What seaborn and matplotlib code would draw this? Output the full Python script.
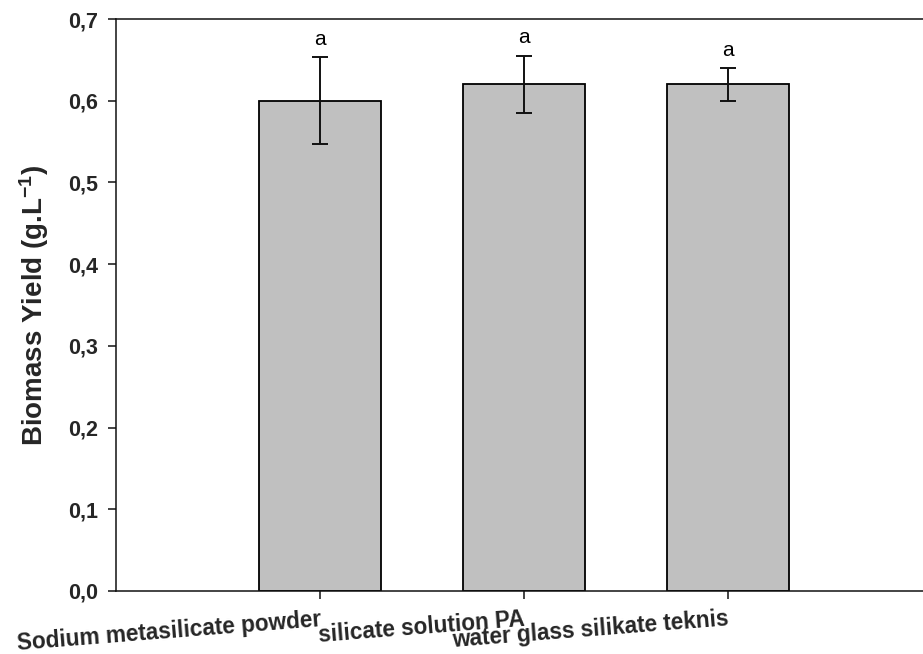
import matplotlib
matplotlib.use("Agg")
import matplotlib.pyplot as plt
import seaborn as sns
import pandas as pd

# Biomass yield per silicate source (mean and error), with significance letters
sources = ["Sodium metasilicate powder", "silicate solution PA", "water glass silikate teknis"]
yield_mean = [0.60, 0.62, 0.62]
yield_err = [0.053, 0.035, 0.020]
letters = ["a", "a", "a"]
y_ticks = [0.0, 0.1, 0.2, 0.3, 0.4, 0.5, 0.6, 0.7]
y_ticklabels = ["0,0", "0,1", "0,2", "0,3", "0,4", "0,5", "0,6", "0,7"]

sns.set_style("ticks")
plt.rcParams["font.family"] = ["Liberation Sans", "DejaVu Sans"]
plt.rcParams["mathtext.fontset"] = "custom"
plt.rcParams["mathtext.rm"] = "Liberation Sans:bold"
plt.rcParams["mathtext.it"] = "Liberation Sans:bold"
plt.rcParams["mathtext.bf"] = "Liberation Sans:bold"
plt.rcParams["mathtext.default"] = "rm"

W, H = 923, 654
fig = plt.figure(figsize=(W / 100, H / 100), dpi=100)
# axes run from x=-1 to x=3; the right end falls just past the figure edge
left, right, top, bottom = 116, 932, 19, 591
ax = fig.add_axes([left / W, 1 - bottom / H, (right - left) / W, (bottom - top) / H])

df = pd.DataFrame({"source": sources, "biomass": yield_mean})
sns.barplot(data=df, x="source", y="biomass", color="#C0C0C0", saturation=1,
            edgecolor="black", linewidth=1.3, width=0.6, errorbar=None, ax=ax)

xs = list(range(len(sources)))
ax.errorbar(xs, yield_mean, yerr=yield_err, fmt="none", ecolor="#111111",
            elinewidth=1.4, capsize=6, capthick=1.4, zorder=5)

for x, m, e, lab in zip(xs, yield_mean, yield_err, letters):
    ax.annotate(lab, (x, m + e), xytext=(0, 9), textcoords="offset points",
                ha="center", va="baseline", fontsize=15, color="black")

ax.set_xlim(-1, 3)
ax.set_ylim(0, 0.7)
ax.set_yticks(y_ticks)
ax.set_yticklabels(y_ticklabels, fontsize=15.5, fontweight="bold")
ax.set_xticks(xs)
ax.set_xticklabels(sources, fontsize=16.3, fontweight="bold", rotation=4.5,
                   ha="right", va="top", rotation_mode="anchor")

ax.set_xlabel("")
ax.set_ylabel(r"Biomass Yield (g.L$^{-1}$)", fontsize=20, fontweight="bold", labelpad=12)

for side in ["left", "bottom", "top"]:
    ax.spines[side].set_visible(True)
    ax.spines[side].set_linewidth(1.1)
    ax.spines[side].set_color("#111111")
ax.spines["right"].set_visible(False)
ax.tick_params(axis="both", direction="out", length=6, width=1.1, color="#111111")
ax.tick_params(axis="y", pad=7)
ax.tick_params(axis="x", pad=6)
ax.tick_params(axis="x", which="both", top=False)
ax.tick_params(axis="y", which="both", right=False)

fig.savefig("out.png", dpi=100)
